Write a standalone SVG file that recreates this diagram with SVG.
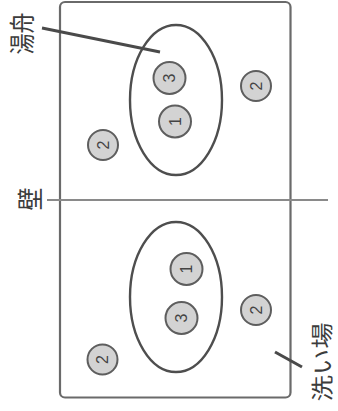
<svg xmlns="http://www.w3.org/2000/svg" width="338" height="411" viewBox="0 0 338 411">
<style>
.frame{fill:none;stroke:#6a6a6a;stroke-width:2.2}
.wall{stroke:#8a8a8a;stroke-width:2;fill:none}
.oval{fill:none;stroke:#4e4e4e;stroke-width:2.4}
.lead{stroke:#4a4a4a;stroke-width:3;fill:none}
.c{fill:#d3d3d3;stroke:#5e5e5e;stroke-width:2}
.n{font-family:"Liberation Sans",Arial,sans-serif;font-size:16px;fill:#444444;text-anchor:middle;dominant-baseline:central}
.lbl{font-family:"Noto Sans CJK JP","Noto Sans CJK SC",sans-serif;fill:#3c3c3c;text-anchor:middle;dominant-baseline:central}
</style>
<rect width="338" height="411" fill="#ffffff"/>
<g id="room"><rect class="frame" x="60" y="2" width="230.5" height="395.5" rx="5"/></g>
<g id="bathtub-area"><ellipse class="oval" cx="176" cy="100" rx="46" ry="75"/></g>
<g id="washing-area-oval"><ellipse class="oval" cx="176" cy="297" rx="46" ry="75"/></g>
<g id="connectors">
<line class="wall" x1="47" y1="200" x2="328" y2="200"/>
<line class="lead" x1="42" y1="28" x2="160" y2="52"/>
<line class="lead" x1="275" y1="352" x2="302" y2="367"/>
</g>
<g id="t3"><circle class="c" cx="169.5" cy="78" r="16"/><text class="n" transform="translate(169.5,78) rotate(-90)">3</text></g>
<g id="t1"><circle class="c" cx="175" cy="121.5" r="16"/><text class="n" transform="translate(175,121.5) rotate(-90)">1</text></g>
<g id="t2r"><circle class="c" cx="256" cy="86" r="15"/><text class="n" transform="translate(256,86) rotate(-90)">2</text></g>
<g id="t2l"><circle class="c" cx="103" cy="145" r="15"/><text class="n" transform="translate(103,145) rotate(-90)">2</text></g>
<g id="b1"><circle class="c" cx="186.5" cy="269" r="16"/><text class="n" transform="translate(186.5,269) rotate(-90)">1</text></g>
<g id="b3"><circle class="c" cx="181.5" cy="318" r="16"/><text class="n" transform="translate(181.5,318) rotate(-90)">3</text></g>
<g id="b2r"><circle class="c" cx="256" cy="310" r="15"/><text class="n" transform="translate(256,310) rotate(-90)">2</text></g>
<g id="b2l"><circle class="c" cx="102.5" cy="359.5" r="15"/><text class="n" transform="translate(102.5,359.5) rotate(-90)">2</text></g>
<g id="label-yubune"><text class="lbl" font-size="21" transform="translate(20,33.5) rotate(-90) scale(1,1.25)">湯舟</text></g>
<g id="label-kabe"><text class="lbl" font-size="23" transform="translate(28,199) rotate(-90) scale(1,1.15)">壁</text></g>
<g id="label-araiba"><text class="lbl" font-size="24" transform="translate(321,362) rotate(-90) scale(1.1,0.9)">洗い場</text></g>
</svg>
